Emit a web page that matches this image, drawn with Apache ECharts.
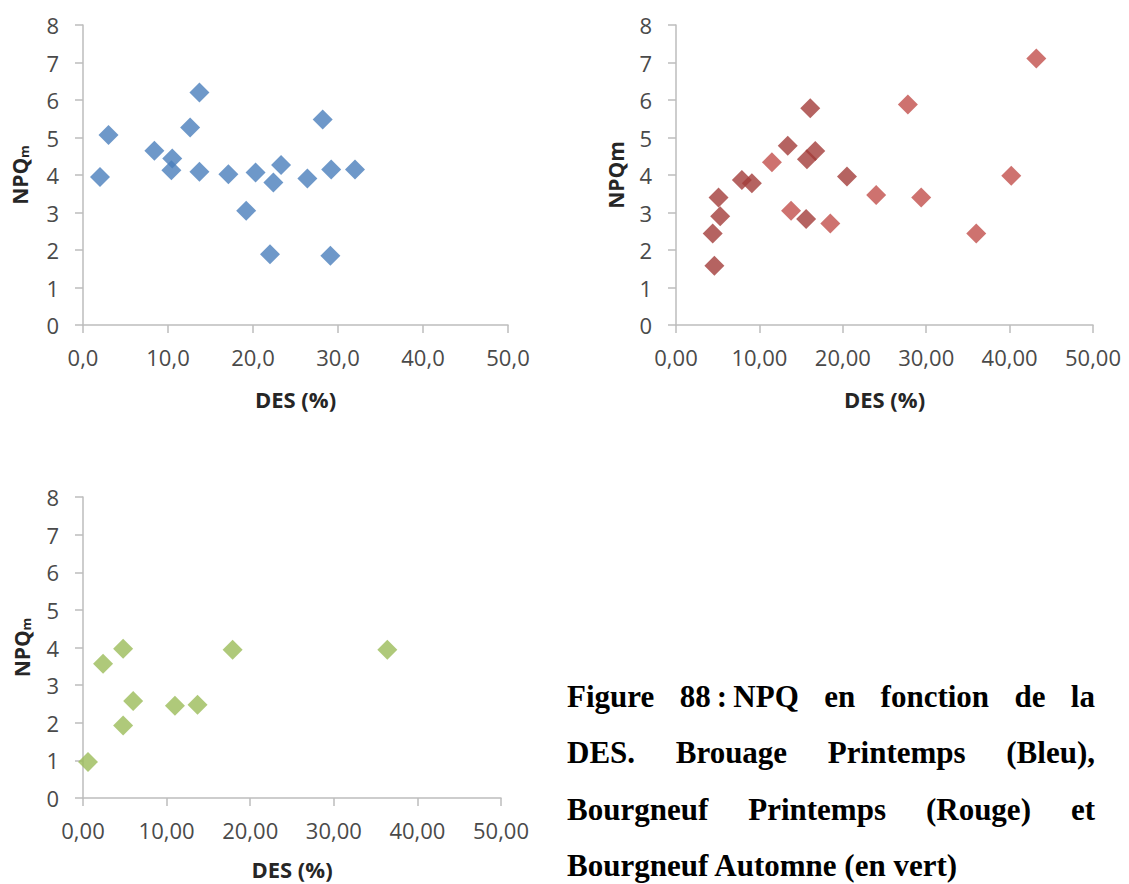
<!DOCTYPE html>
<html>
<head>
<meta charset="utf-8">
<script src="https://cdn.jsdelivr.net/npm/echarts@6/dist/echarts.min.js"></script>
<style>
  html, body { margin: 0; padding: 0; background: #fff; }
  #chart { width: 1129px; height: 884px; position: absolute; left: 0; top: 0; }
  #caption {
    position: absolute; left: 567px; top: 669px; width: 528px;
    font-family: "Liberation Serif", "Times New Roman", serif;
    font-weight: bold; font-size: 31px; line-height: 56.3px; color: #000;
  }
  #caption .j { text-align: justify; text-align-last: justify; white-space: normal; }
  #caption .l { text-align: left; }
</style>
</head>
<body>
<div id="chart"></div>
<div id="caption">
  <div class="j">Figure 88&#8201;:&#8201;NPQ en fonction de la</div>
  <div class="j">DES. Brouage Printemps (Bleu),</div>
  <div class="j">Bourgneuf Printemps (Rouge) et</div>
  <div class="l">Bourgneuf Automne (en vert)</div>
</div>
<script>
// Brouage Printemps (blue)
const blueX = [2.0, 3.0, 8.4, 10.5, 10.4, 12.6, 13.7, 13.7, 17.1, 19.2, 20.3, 22.0, 22.4, 23.3, 26.4, 28.2, 29.2, 29.1, 32.0];
const blueY = [3.95, 5.07, 4.65, 4.44, 4.13, 5.27, 6.20, 4.09, 4.02, 3.05, 4.07, 1.89, 3.80, 4.27, 3.91, 5.48, 4.15, 1.85, 4.15];
// Bourgneuf Printemps (red, two shades)
const redDarkX = [16.1, 13.4, 16.7, 15.7, 7.9, 9.1, 20.5, 5.1, 5.3, 4.4, 4.6, 15.6];
const redDarkY = [5.78, 4.78, 4.64, 4.42, 3.87, 3.78, 3.96, 3.40, 2.90, 2.44, 1.58, 2.83];
const redLightX = [43.2, 27.8, 11.5, 40.2, 24.0, 29.4, 13.8, 18.5, 36.0];
const redLightY = [7.11, 5.88, 4.34, 3.98, 3.47, 3.40, 3.05, 2.71, 2.44];
// Bourgneuf Automne (green)
const greenX = [0.6, 2.4, 4.8, 6.0, 4.8, 11.0, 13.7, 17.9, 36.4];
const greenY = [0.96, 3.57, 3.97, 2.58, 1.93, 2.45, 2.48, 3.94, 3.94];

const xMin = 0, xMax = 50, xStep = 10;
const yMin = 0, yMax = 8, yStep = 1;
const xTitle = 'DES (%)';

function pairs(xs, ys) { return xs.map((x, i) => [x, ys[i]]); }

const axisColor = '#bdbdbd';
const labelColor = '#4a4a4a';
const font = '"Open Sans", sans-serif';

function xAxis(gridIndex, decimals, gap) {
  return {
    type: 'value', gridIndex, min: xMin, max: xMax, interval: xStep,
    axisLine: { show: true, lineStyle: { color: axisColor, width: 1.5 } },
    axisTick: { show: true, length: 8, lineStyle: { color: axisColor, width: 1.5 } },
    splitLine: { show: false },
    axisLabel: { margin: 21, color: labelColor, fontSize: 22, fontFamily: font,
      formatter: v => v.toFixed(decimals).replace('.', ',') },
    name: xTitle, nameLocation: 'middle', nameGap: gap,
    nameTextStyle: { color: '#262626', fontSize: 22, fontWeight: 'bold', fontFamily: font }
  };
}
function yAxis(gridIndex, name, gap) {
  return {
    type: 'value', gridIndex, min: yMin, max: yMax, interval: yStep,
    axisLine: { show: true, onZero: false, lineStyle: { color: axisColor, width: 1.5 } },
    axisTick: { show: true, length: 8, lineStyle: { color: axisColor, width: 1.5 } },
    splitLine: { show: false },
    axisLabel: { margin: 24, color: labelColor, fontSize: 22, fontFamily: font },
    name: name, nameLocation: 'middle', nameGap: gap,
    nameTextStyle: { color: '#262626', fontSize: 21, fontWeight: 'bold', fontFamily: font,
      rich: {
        sub: { fontSize: 13, fontWeight: 'bold', fontFamily: font, color: '#262626', verticalAlign: 'bottom', lineHeight: 13, padding: [12, 0, 0, 0] }
      }
    }
  };
}
function scatter(idx, data, color) {
  return { type: 'scatter', xAxisIndex: idx, yAxisIndex: idx, data, symbol: 'diamond', symbolSize: 20,
    itemStyle: { color }, emphasis: { disabled: true } };
}

const chart = echarts.init(document.getElementById('chart'), null, { renderer: 'svg' });
chart.setOption({
  animation: false,
  backgroundColor: '#fff',
  grid: [
    { left: 83, top: 25, width: 425, height: 300 },
    { left: 676, top: 25, width: 417, height: 300 },
    { left: 83, top: 497, width: 418, height: 301 }
  ],
  xAxis: [xAxis(0, 1, 63), xAxis(1, 2, 63), xAxis(2, 2, 60)],
  yAxis: [yAxis(0, 'NPQ{sub|m}', 53), yAxis(1, 'NPQm', 50), yAxis(2, 'NPQ{sub|m}', 51)],
  series: [
    scatter(0, pairs(blueX, blueY), '#4a7ebb'),
    scatter(1, pairs(redDarkX, redDarkY), '#a33c39'),
    scatter(1, pairs(redLightX, redLightY), '#c24f4b'),
    scatter(2, pairs(greenX, greenY), '#9bbb59')
  ]
});
</script>
</body>
</html>
